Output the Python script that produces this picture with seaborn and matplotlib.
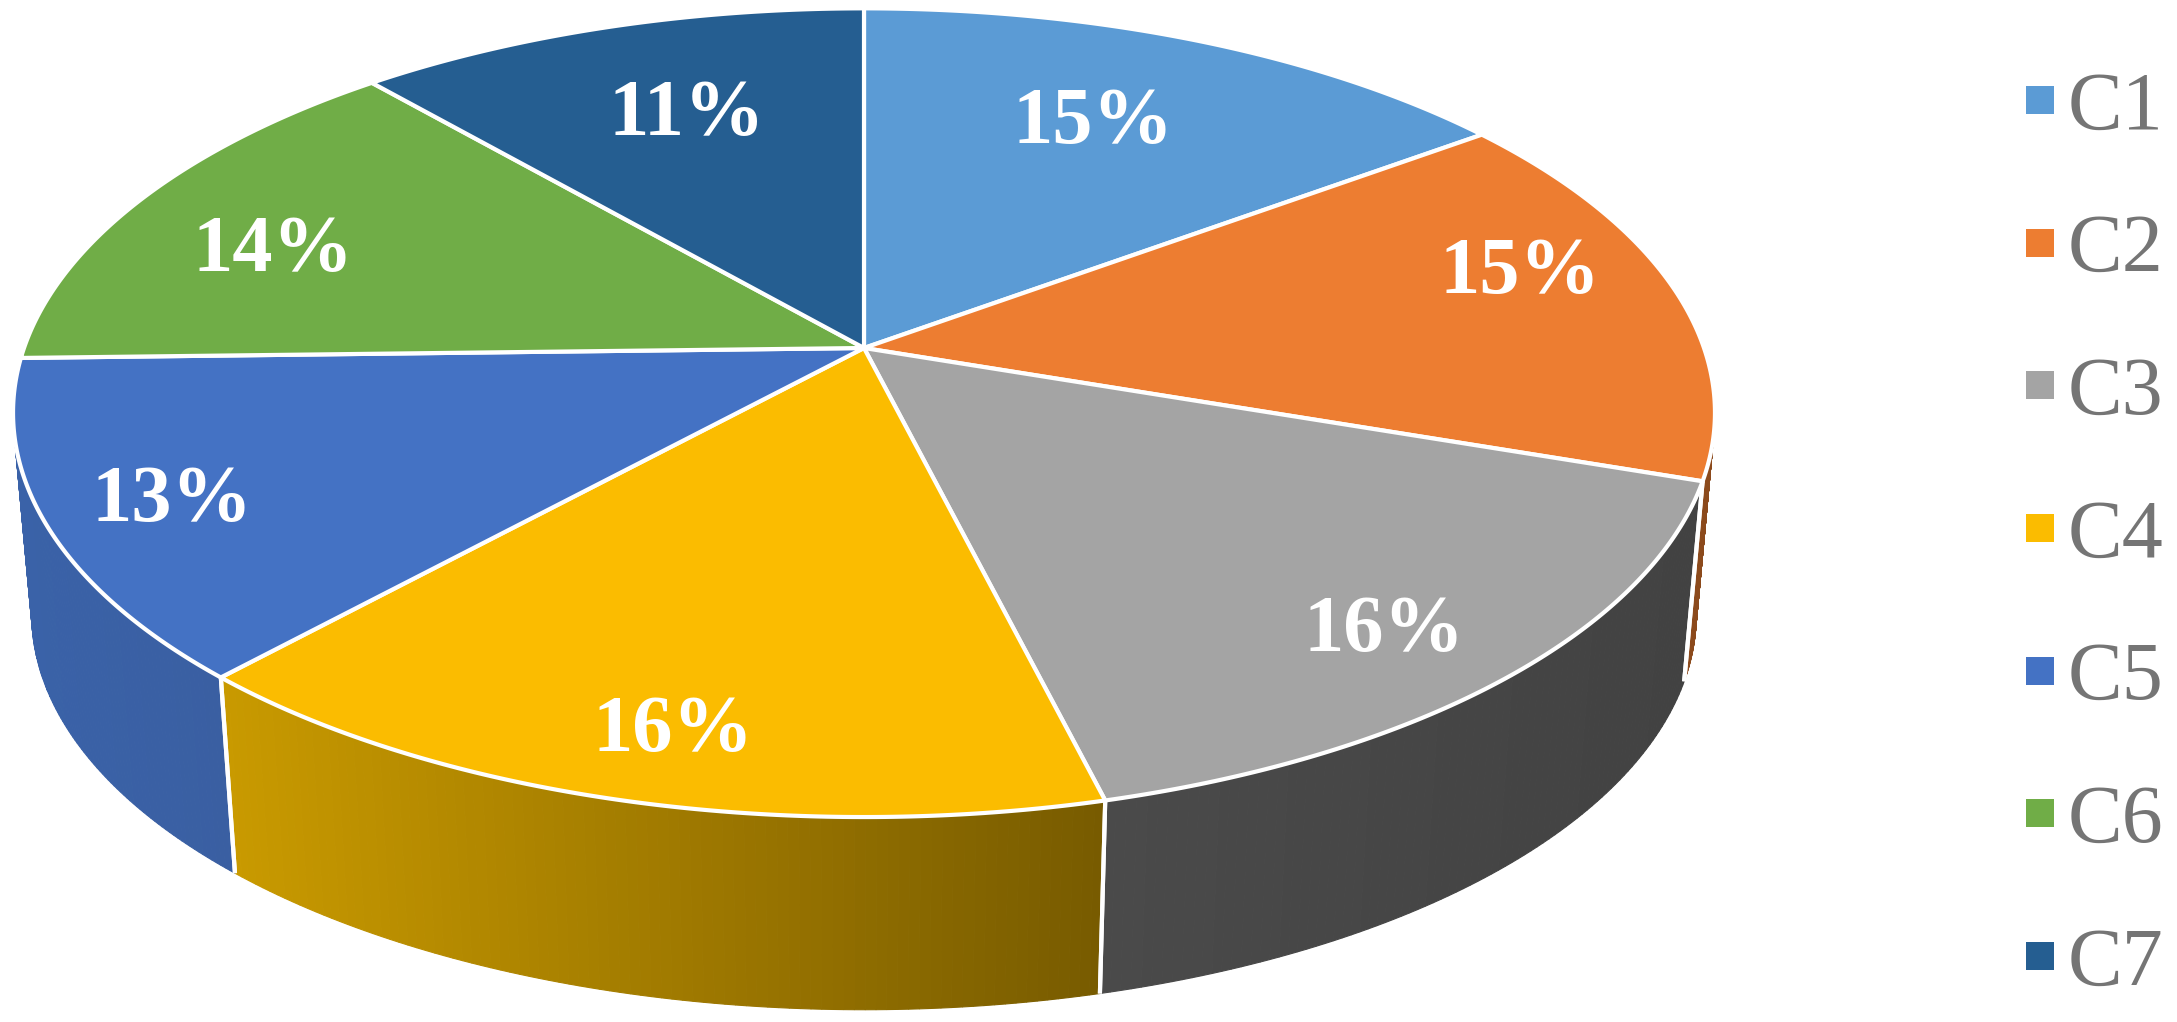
import matplotlib
matplotlib.use("Agg")
import matplotlib.pyplot as plt
import numpy as np
import pandas as pd
import seaborn as sns

categories = ["C1", "C2", "C3", "C4", "C5", "C6", "C7"]
shares = [14.9, 15.3, 15.9, 15.7, 12.8, 14.0, 11.4]
top_colors = ["#5B9BD5", "#ED7D31", "#A4A4A4", "#FBBC00", "#4472C4", "#70AD47", "#255E91"]
wall_left = ["#A0561E", "#8C4A1C", "#4A4A4A", "#C99A00", "#3A62A8", "#70AD47", "#255E91"]
wall_right = ["#8C4A1C", "#8C4A1C", "#424242", "#785B00", "#3A5FA2", "#70AD47", "#255E91"]

# perspective view of the pie, in pixels
CX, CY = 864, 348
A, B, K = 840, 394, 0.16
SHRINK, DROP = 0.978, 203
# first and last visible angle of the side wall
WALL_FROM, WALL_TO = 99, 262

label_xy = [(1093, 124), (1520, 273), (1384, 631), (673, 731), (172, 502), (273, 252), (687, 116)]


def project(deg, r=1.0, bottom=False):
    th = np.radians(deg)
    u, v = r * np.sin(th), r * np.cos(th)
    w = 1 + K * v
    x, y = A * u / w, -B * v / w
    if bottom:
        return CX + SHRINK * x, CY + SHRINK * y + DROP
    return CX + x, CY + y


def mix(c1, c2, t):
    c1, c2 = np.array(matplotlib.colors.to_rgb(c1)), np.array(matplotlib.colors.to_rgb(c2))
    return tuple(c1 + (c2 - c1) * t)


sns.set_theme(style="white")
plt.rcParams["font.family"] = ["Liberation Serif", "DejaVu Serif"]

fig = plt.figure(figsize=(21.77, 10.22), dpi=100)
ax = fig.add_axes([0, 0, 1, 1])
ax.set_xlim(0, 2177)
ax.set_ylim(1022, 0)
ax.axis("off")

edges = 3.6 * np.cumsum([0] + shares)

# hidden under the pie, only here to give seaborn its legend
df = pd.DataFrame({"x": [CX] * 7, "y": [CY] * 7, "series": categories})
sns.scatterplot(data=df, x="x", y="y", hue="series", palette=top_colors, marker="s",
                s=380, linewidth=0, ax=ax, zorder=0)

# side wall, right part and left part towards the front
for i in range(len(shares)):
    start, end = max(edges[i], WALL_FROM), min(edges[i + 1], WALL_TO)
    if end <= start:
        continue
    angles = np.linspace(start, end, 90)
    xa, _ = project(angles)
    span_l, span_r = xa.min(), xa.max()
    for a0, a1 in zip(angles[:-1], angles[1:]):
        x0, y0 = project(a0)
        x1, y1 = project(a1)
        x2, y2 = project(a1, bottom=True)
        x3, y3 = project(a0, bottom=True)
        t = ((x0 + x1) / 2 - span_l) / max(span_r - span_l, 1)
        col = mix(wall_left[i], wall_right[i], t)
        ax.fill([x0, x1, x2, x3], [y0, y1, y2, y3], color=col, lw=0.8, zorder=1)
    # white seam at the right end of each wall
    for a in (start, end):
        if WALL_FROM < a < WALL_TO:
            xs, ys = project(a)
            xb, yb = project(a, bottom=True)
            ax.plot([xs, xb], [ys, yb], color="white", lw=3, zorder=2, solid_capstyle="butt")

# top face
for i, col in enumerate(top_colors):
    angles = np.linspace(edges[i], edges[i + 1], 120)
    xs, ys = project(angles)
    ax.fill(np.r_[CX, xs], np.r_[CY, ys], facecolor=col, edgecolor="white", lw=3,
            joinstyle="round", zorder=3)

for (x, y), share in zip(label_xy, shares):
    ax.text(x, y, f"{share:.0f}%", color="white", fontsize=58, fontweight="bold",
            ha="center", va="center", zorder=4)

sns.move_legend(ax, "upper left", bbox_to_anchor=(0.9306, 0.9305), title=None, frameon=False,
                fontsize=59, labelcolor="#757575", handletextpad=0.16, handlelength=0.35,
                labelspacing=0.82, borderpad=0, borderaxespad=0)

fig.savefig("out.png", dpi=100)
